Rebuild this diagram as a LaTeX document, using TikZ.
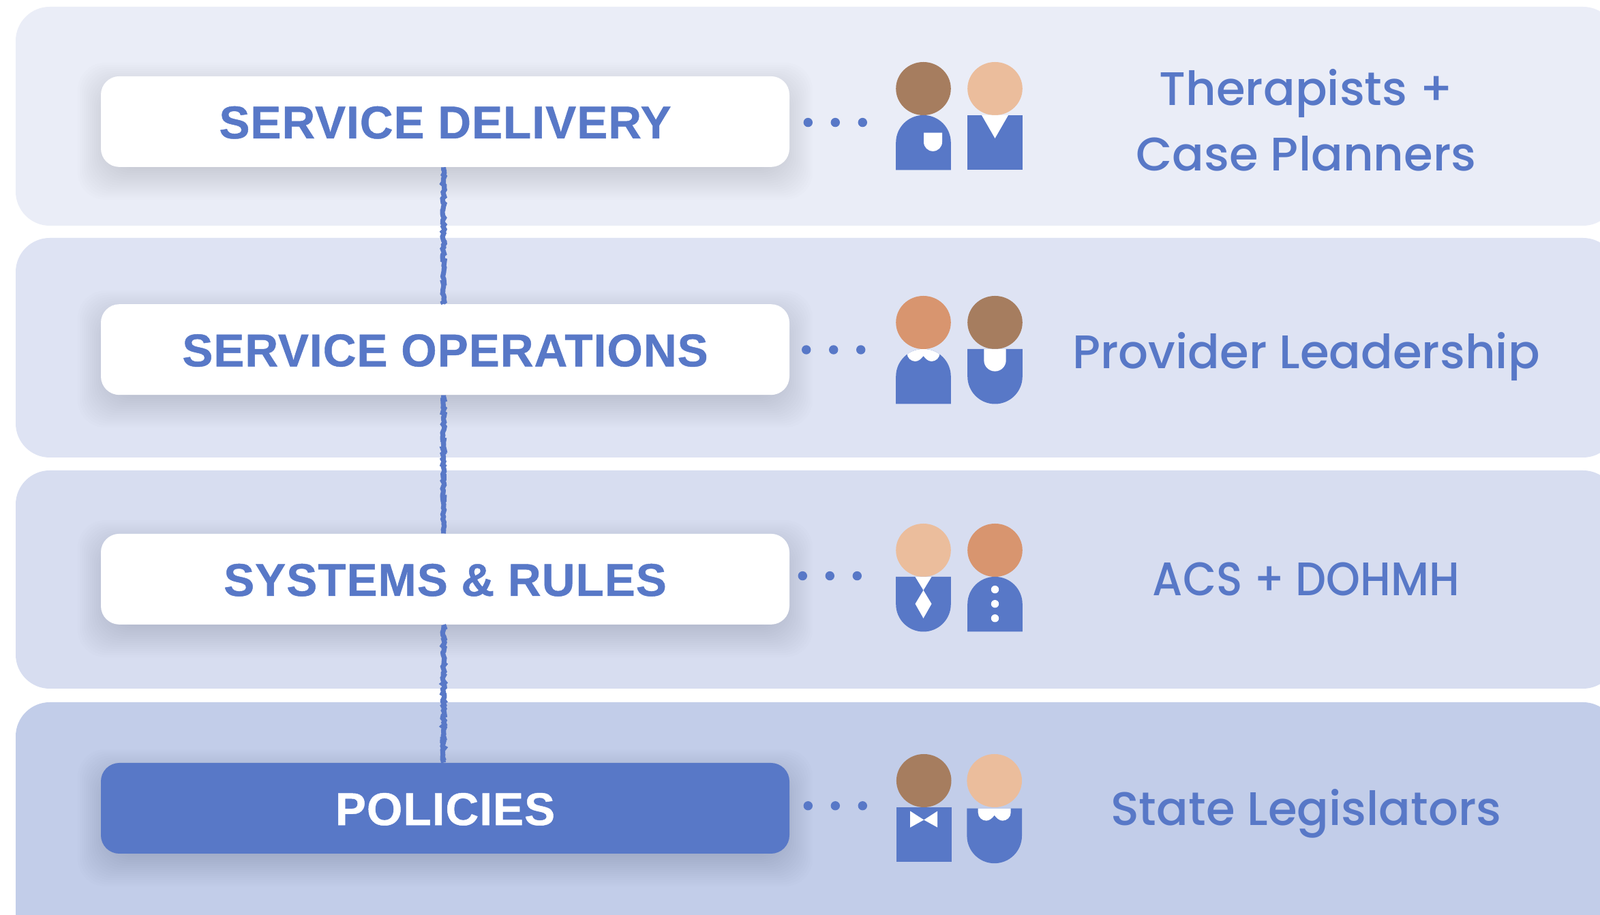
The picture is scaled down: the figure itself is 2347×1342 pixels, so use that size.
\documentclass[tikz,border=0pt]{standalone}
\usepackage{fontspec}
\setmainfont{Poppins}
\newfontfamily\stagefont[LetterSpace=1.6,BoldFeatures={FakeBold=0.7}]{Liberation Sans}
\newfontfamily\rolefont[UprightFont=* Medium]{Poppins}
\usetikzlibrary{decorations.pathmorphing}
\definecolor{bandone}{HTML}{EAEDF7}
\definecolor{bandtwo}{HTML}{DEE3F3}
\definecolor{bandthree}{HTML}{D7DDF0}
\definecolor{bandfour}{HTML}{C2CDE9}
\definecolor{ink}{HTML}{5878C7}
\definecolor{brownskin}{HTML}{A67D5F}
\definecolor{paleskin}{HTML}{EBBD9C}
\definecolor{warmskin}{HTML}{D8956F}
\newcommand{\archpath}{(-40.3,-80.5) -- (-40.3,-40.2) arc[start angle=180,end angle=0,radius=40.3] -- (40.3,-80.5) -- cycle}
\newcommand{\cuppath}{(-40.3,0) -- (-40.3,-40.2) arc[start angle=180,end angle=360,radius=40.3] -- (40.3,0) -- cycle}
\newcommand{\collarpath}{(-24,4) -- (-24,-6) .. controls (-24,-13) and (-18,-18) .. (-12,-18) .. controls (-7,-18) and (-3,-14) .. (0,-10) .. controls (3,-14) and (7,-18) .. (12,-18) .. controls (18,-18) and (24,-13) .. (24,-6) -- (24,4) -- cycle}
\tikzset{
  noggin/.pic={\fill[pic actions] (0,39) ellipse [x radius=40.3,y radius=39];},
  archtorso/.pic={\fill[ink] \archpath;},
  cuptorso/.pic={\fill[ink] \cuppath;},
  boxtorso/.pic={\fill[ink] (-40.3,0) rectangle (40.3,-80.5);},
  pocket/.pic={\fill[white] (0.5,-25.6) -- (0.5,-39.3) arc[start angle=180,end angle=360,radius=13.5] -- (27.5,-25.6) -- cycle;},
  vneck/.pic={\fill[white] (-19.5,0) -- (19.5,0) -- (0,-33.9) -- cycle;},
  bib/.pic={\fill[white] (-16.2,0) -- (-16.2,-16.4) arc[start angle=180,end angle=360,radius=16.2] -- (16.2,0) -- cycle;},
  archcollar/.pic={\clip \archpath; \fill[white] \collarpath;},
  cupcollar/.pic={\clip \cuppath; \fill[white] \collarpath;},
  necktie/.pic={\fill[white] (-12,0) -- (12,0) -- (0,-19.7) -- (12,-39.7) -- (0,-60.8) -- (-12,-39.7) -- (0,-19.7) -- cycle;},
  buttons/.pic={\foreach \b in {-18.6,-39.7,-60.8} \fill[white] (0,\b) circle (5.7);},
  bowtie/.pic={\fill[white] (-20,-5.6) -- (0,-18.5) -- (20,-5.6) -- (20,-29.6) -- (0,-18.5) -- (-20,-29.6) -- cycle;}
}
\begin{document}
\begin{tikzpicture}[x=0.5pt,y=0.5pt,
    band/.style ={rounded corners=25pt},
    stage/.style ={rounded corners=13.5pt, minimum width=505pt, minimum height=66.5pt, inner sep=0pt,
      text height=24.6pt, text depth=0pt,
      font=\stagefont\bfseries\fontsize{33.7}{38}\selectfont},
    role/.style ={text=ink, align=center, inner sep=0pt, anchor=base,
      font=\rolefont\fontsize{34.5}{48}\selectfont},
    wire/.style ={ink, line width=3.6pt, decorate, decoration={random steps, segment length=1.4pt, amplitude=0.8pt}},
    dot/.style ={fill=ink}]
   \useasboundingbox (0,0) rectangle (2347,1342);
   \clip (0,0) rectangle (2347,1342);

   % bands
   \fill[white] (0,0) rectangle (2347,1342);
   \fill[band, bandone] (23,1011) rectangle (2372,1332);
   \fill[band, bandtwo] (23,671) rectangle (2372,993);
   \fill[band, bandthree] (23,332) rectangle (2372,652);
   \fill[band, bandfour] (23,-80) rectangle (2372,312);

   % shadows
   \foreach \y in {1163.6,829.3,492.6,156.5}
     \foreach \g in {-20,-17,...,34}
       \fill[black, opacity=0.008, rounded corners=20pt]
         (148-\g,\y-66.5-14-\g) rectangle (1158+\g,\y+66.5-14+\g);

   % stages
   \node[stage, fill=white, text=ink] (delivery) at (653,1163.6) {SERVICE DELIVERY};
   \node[stage, fill=white, text=ink] (operations) at (653,829.3) {SERVICE OPERATIONS};
   \node[stage, fill=white, text=ink] (systems) at (653,492.6) {SYSTEMS \& RULES};
   \node[stage, fill=ink, text=white] (policies) at (653,156.5) {POLICIES};

   \draw[wire] ([xshift=-1.2pt]delivery.south) -- ([xshift=-1.2pt]operations.north);
   \draw[wire] ([xshift=-1.2pt]operations.south) -- ([xshift=-1.2pt]systems.north);
   \draw[wire] ([xshift=-1.2pt]systems.south) -- ([xshift=-1.2pt]policies.north);

   % dots
   \foreach \x in {1185.3,1225.3,1265.3} \fill[dot] (\x,1162.4) circle (6.7);
   \foreach \x in {1182.7,1222.7,1262.7} \fill[dot] (\x,829) circle (6.7);
   \foreach \x in {1177.3,1217.3,1257.3} \fill[dot] (\x,497.4) circle (6.7);
   \foreach \x in {1185.3,1225.3,1265.3} \fill[dot] (\x,160.2) circle (6.7);

   % people, origin at the neck
   \pic[fill=brownskin] at (1354.5,1173) {noggin};
   \pic at (1354.5,1173) {archtorso};
   \pic at (1354.5,1173) {pocket};
   \pic[fill=paleskin] at (1459.5,1173) {noggin};
   \pic at (1459.5,1173) {boxtorso};
   \pic at (1459.5,1173) {vneck};

   \pic at (1354.5,830) {archtorso};
   \pic at (1354.5,830) {archcollar};
   \pic[fill=warmskin] at (1354.5,830) {noggin};
   \pic[fill=brownskin] at (1459.5,830) {noggin};
   \pic at (1459.5,830) {cuptorso};
   \pic at (1459.5,830) {bib};

   \pic[fill=paleskin] at (1354.5,496) {noggin};
   \pic at (1354.5,496) {cuptorso};
   \pic at (1354.5,496) {necktie};
   \pic[fill=warmskin] at (1459.5,496) {noggin};
   \pic at (1459.5,496) {archtorso};
   \pic at (1459.5,496) {buttons};

   \pic[fill=brownskin] at (1355.2,158) {noggin};
   \pic at (1355.2,158) {boxtorso};
   \pic at (1355.2,158) {bowtie};
   \pic[fill=paleskin] at (1458.7,158) {noggin};
   \pic at (1458.7,156.3) {cuptorso};
   \pic at (1458.7,156.3) {cupcollar};

   % roles
   \node[role] (therapists) at (1916,1187) {Therapists +};
   \node[role] (planners) at (1916,1091) {Case Planners};
   \node[role] (leadership) at (1916,801) {Provider Leadership};
   \node[role] (agencies) at (1916,468) {\addfontfeature{FakeStretch=0.92}ACS + DOHMH};
   \node[role] (legislators) at (1916,131) {State Legislators};
 \end{tikzpicture}
\end{document}
